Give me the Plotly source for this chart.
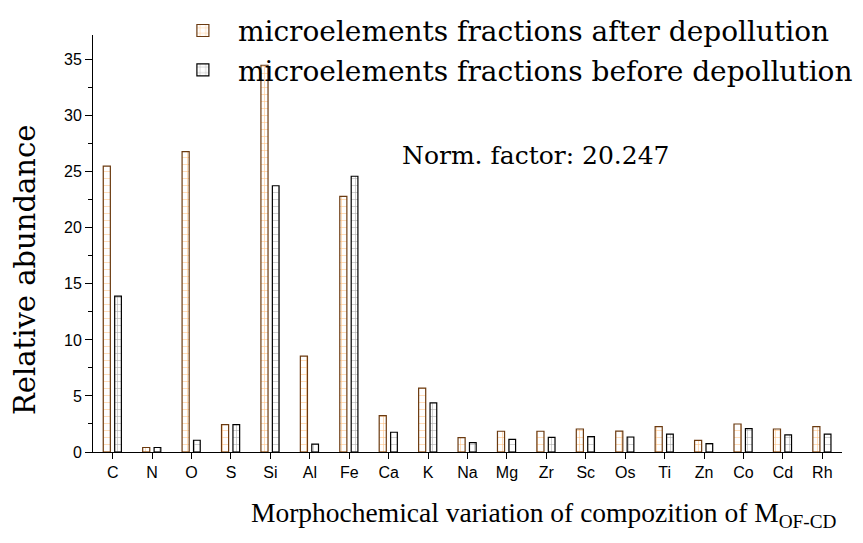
import plotly.graph_objects as go

elements = ["C", "N", "O", "S", "Si", "Al", "Fe", "Ca", "K", "Na", "Mg", "Zr", "Sc", "Os", "Ti", "Zn", "Co", "Cd", "Rh"]
after_depollution = [25.5, 0.4, 26.8, 2.45, 34.5, 8.55, 22.8, 3.25, 5.7, 1.28, 1.85, 1.85, 2.05, 1.87, 2.26, 1.04, 2.5, 2.05, 2.26]
before_depollution = [13.9, 0.4, 1.05, 2.45, 23.75, 0.7, 24.6, 1.76, 4.38, 0.83, 1.13, 1.31, 1.37, 1.34, 1.6, 0.74, 2.08, 1.52, 1.6]

serif_wide = "DejaVu Serif"
serif = "Liberation Serif"
sans = "Liberation Sans"

fig = go.Figure()
fig.add_trace(go.Bar(
    x=elements, y=after_depollution,
    name="microelements fractions after depollution",
    width=0.18, offset=-0.24,
    marker=dict(color="white",
                line=dict(color="#6b3a10", width=1.2),
                pattern=dict(shape="+", fgcolor="#ff8000", bgcolor="white", size=7, solidity=0.15)),
))
fig.add_trace(go.Bar(
    x=elements, y=before_depollution,
    name="microelements fractions before depollution",
    width=0.17, offset=0.05,
    marker=dict(color="white",
                line=dict(color="black", width=1.2),
                pattern=dict(shape="+", fgcolor="#555555", bgcolor="white", size=7, solidity=0.15)),
))

fig.add_annotation(text="Norm. factor: 20.247", xref="paper", yref="paper",
                   x=0.41, y=0.712, xanchor="left", yanchor="middle", showarrow=False,
                   font=dict(family=serif_wide, size=25, color="black"))
fig.add_annotation(text="Morphochemical variation of compozition of M<sub>OF-CD</sub>",
                   xref="paper", yref="paper", x=0.602, y=-0.151,
                   xanchor="center", yanchor="middle", showarrow=False,
                   font=dict(family=serif, size=27.5, color="black"))
fig.add_annotation(text="Relative abundance", textangle=-90,
                   xref="paper", yref="paper", x=-0.091, y=0.436,
                   xanchor="center", yanchor="middle", showarrow=False,
                   font=dict(family=serif_wide, size=29, color="black"))

fig.update_layout(
    width=863, height=543,
    margin=dict(l=85, r=29, t=27, b=99, autoexpand=False),
    plot_bgcolor="white", paper_bgcolor="white",
    barmode="overlay",
    showlegend=True,
    legend=dict(x=0.10, y=1.07, xanchor="left", yanchor="top",
                font=dict(family=serif_wide, size=28, color="black"),
                bgcolor="rgba(0,0,0,0)", itemwidth=60, tracegroupgap=0),
    xaxis=dict(type="category", range=[-0.5, 18.5],
               showline=True, linecolor="black", linewidth=1,
               ticks="outside", ticklen=6, tickcolor="black", tickwidth=1,
               minor=dict(ticks="outside", ticklen=3, tickcolor="black", tickwidth=1, dtick=1, tick0=0.5),
               tickfont=dict(family=sans, size=16, color="black"),
               showgrid=False, zeroline=False),
    yaxis=dict(range=[0, 37.2], dtick=5, tick0=0,
               showline=True, linecolor="black", linewidth=1,
               ticks="outside", ticklen=7, tickcolor="black", tickwidth=1,
               minor=dict(ticks="outside", ticklen=4, tickcolor="black", tickwidth=1, dtick=2.5),
               tickfont=dict(family=sans, size=16, color="black"),
               showgrid=False, zeroline=False),
)

fig.write_html("out.html")
